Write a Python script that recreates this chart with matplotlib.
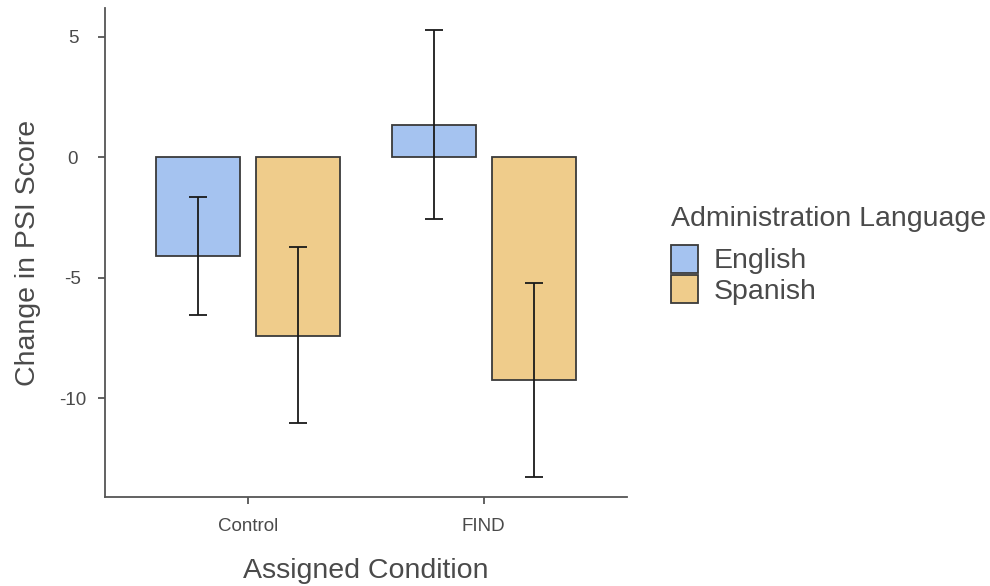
import numpy as np
import matplotlib
matplotlib.use("Agg")
import matplotlib.pyplot as plt
from matplotlib.patches import Patch

plt.rcParams['font.family'] = ['Liberation Sans', 'DejaVu Sans']
plt.rcParams['axes.unicode_minus'] = False

# data
conditions = ['Control', 'FIND']
languages = ['English', 'Spanish']
english_mean = [-4.1, 1.33]
english_lo = [-6.55, -2.57]
english_hi = [-1.66, 5.27]
spanish_mean = [-7.43, -9.25]
spanish_lo = [-11.05, -13.28]
spanish_hi = [-3.73, -5.23]

colors = ['#A5C3F0', '#EFCC8B']
edge = '#3a3a3a'
txt = '#4a4a4a'

fig = plt.figure(figsize=(9.9, 5.86), dpi=100)
ax = fig.add_axes([0.106, 0.152, 0.527, 0.834])

x = np.arange(len(conditions))
off = 0.212
w = 0.356

for i, (m, lo, hi) in enumerate([(english_mean, english_lo, english_hi),
                                 (spanish_mean, spanish_lo, spanish_hi)]):
    pos = x + (off if i else -off)
    ax.bar(pos, m, w, color=colors[i], edgecolor=edge, linewidth=1.3)
    m = np.array(m)
    yerr = [m - np.array(lo), np.array(hi) - m]
    ax.errorbar(pos, m, yerr=yerr, fmt='none', ecolor='#1a1a1a',
                elinewidth=1.3, capsize=6.5, capthick=1.3)

ax.set_xlim(-0.606, 1.606)
ax.set_ylim(-14.1, 6.18)
ax.set_yticks([5, 0, -5, -10])
ax.set_xticks(x)
ax.set_xticklabels(conditions)
ax.spines['top'].set_visible(False)
ax.spines['right'].set_visible(False)
for s in ['left', 'bottom']:
    ax.spines[s].set_color('#555555')
    ax.spines[s].set_linewidth(1.3)
ax.tick_params(colors='#555555', labelcolor=txt, labelsize=13.5, length=5, width=1.3)
ax.tick_params(axis='x', pad=10.5)
ax.tick_params(axis='y', pad=18)
for lab in ax.get_yticklabels():
    lab.set_horizontalalignment('center')
ax.set_xlabel('Assigned Condition', fontsize=20.5, color=txt, labelpad=16)
ax.set_ylabel('Change in PSI Score', fontsize=20.5, color=txt, labelpad=13)

handles = [Patch(facecolor=colors[i], edgecolor=edge, linewidth=1.3, label=languages[i])
           for i in range(2)]
leg = fig.legend(handles=handles, title='Administration Language',
                 loc='upper left', bbox_to_anchor=(0.6636, 0.672),
                 frameon=False, fontsize=20.5, title_fontsize=20.5,
                 handlelength=0.95, handleheight=1.12, labelspacing=0.02,
                 handletextpad=0.55, borderpad=0.0)
leg._legend_box.align = 'left'
leg._legend_box.sep = 9
for t in leg.get_texts():
    t.set_color(txt)
leg.get_title().set_color(txt)

fig.savefig('out.png', dpi=100)
